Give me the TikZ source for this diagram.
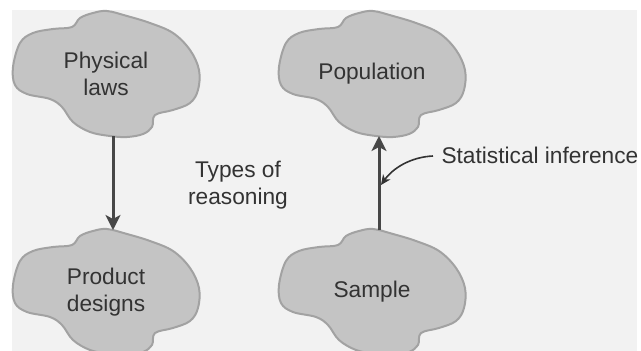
\documentclass[tikz,border=0pt]{standalone}
\usepackage{fontspec}
\setmainfont{Liberation Sans}
\usetikzlibrary{arrows.meta}

\definecolor{paper}{HTML}{F2F2F2}
\definecolor{blobfill}{HTML}{C4C4C4}
\definecolor{blobline}{HTML}{A2A2A2}
\definecolor{ink}{HTML}{333333}
\definecolor{stemgray}{HTML}{474747}

\tikzset{
  blobshape/.style={fill=blobfill, draw=blobline, line width=2pt},
  blobtext/.style={text=ink, align=center, font=\fontsize{22.7}{27}\selectfont},
  flow/.style={draw=stemgray, line width=3pt, -{Stealth[length=15pt,width=15pt,inset=4pt]}},
  pointer/.style={draw=ink, line width=1.6pt, -{Stealth[length=10pt,width=9pt,inset=3pt]}},
}

\newcommand{\blob}[3]{%
  \begin{scope}[shift={#2}]
    \path[blobshape] plot[smooth cycle, tension=0.6] coordinates {
      (-93,-7) (-86,-31) (-73,-41) (-53,-45) (-34,-47) (-26,-56) (-13,-61)
      (1,-63) (21,-58) (44,-51) (67,-41) (84,-24) (93,-4) (92,16) (84,29)
      (67,36) (49,41) (46,53) (37,60) (21,63) (4,62) (-16,58) (-33,48)
      (-44,33) (-56,25) (-79,20) (-91,11)};
    \coordinate (#1-n) at (7,-62);
    \coordinate (#1-s) at (7,62);
  \end{scope}
  \node[blobtext] (#1) at #2 {#3};
}

\begin{document}
\begin{tikzpicture}[x=1pt, y=-1pt]
  \useasboundingbox (0,0) rectangle (641,351);
  \clip (0,0) rectangle (641,351);
  \fill[paper] (12,10) rectangle (637,351);

  \blob{phys}{(106,74)}{Physical\\laws}
  \blob{prod}{(106,292)}{Product\\designs}
  \blob{popu}{(372,74)}{Population}
  \blob{samp}{(372,292)}{Sample}

  \node[blobtext] (types) at (238,185) {Types of\\reasoning};
  \node[blobtext, anchor=west] (infer) at (438,155) {Statistical inference};
  \coordinate (hit) at (381,185);

  \draw[flow] (phys-s) -- (prod-n);
  \draw[flow] (samp-n) -- (popu-s);
  \draw[pointer] (infer.west) ++(-5,1) .. controls +(-22,1) and +(12,-17) .. (hit);
\end{tikzpicture}
\end{document}
